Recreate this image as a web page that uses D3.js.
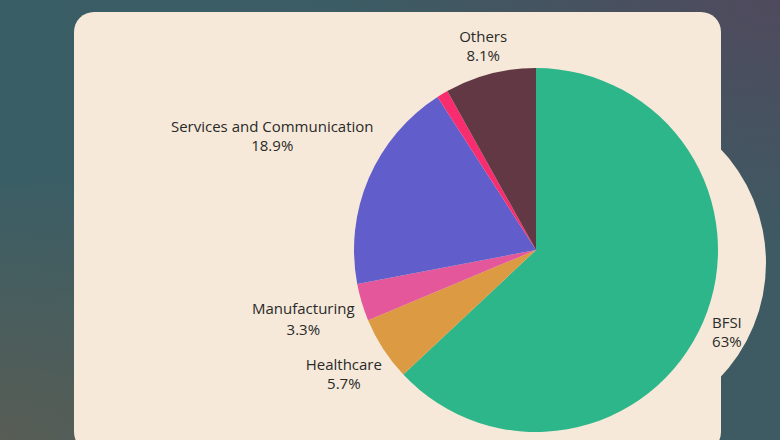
<!DOCTYPE html>
<html>
<head>
<meta charset="utf-8">
<script src="https://cdn.jsdelivr.net/npm/d3@7"></script>
<style>
html,body{margin:0;padding:0;overflow:hidden;background:#3e5a61;}
svg{display:block;}
</style>
</head>
<body>
<svg id="chart" width="780" height="440"></svg>
<script>
// ---- data ----
const categories = ["BFSI", "Healthcare", "Manufacturing", "Services and Communication", "", "Others"];
const values = [63, 5.7, 3.3, 18.9, 1.0, 8.1];
const valueLabels = ["63%", "5.7%", "3.3%", "18.9%", "", "8.1%"];
const colors = ["#2db68a", "#dc9a42", "#e4579a", "#615ecb", "#f72d70", "#623844"];

// label placement (radius from center, line gap)
const labelRadius = [208, 229, 243, 287, 0, 210];
const labelLineGap = [19, 19, 21, 19, 0, 19];

const W = 780, H = 440;
const svg = d3.select("#chart");
const defs = svg.append("defs");

// background gradient
const g1 = defs.append("linearGradient").attr("id","bg1").attr("x1","0").attr("y1","0").attr("x2","1").attr("y2","0");
g1.append("stop").attr("offset","0%").attr("stop-color","#3a5e66");
g1.append("stop").attr("offset","100%").attr("stop-color","#3e5a62");
svg.append("rect").attr("width",W).attr("height",H).attr("fill","url(#bg1)");
const g2 = defs.append("radialGradient").attr("id","bg2").attr("cx","0").attr("cy","1").attr("r","0.6");
g2.append("stop").attr("offset","0%").attr("stop-color","#585d55").attr("stop-opacity",1);
g2.append("stop").attr("offset","100%").attr("stop-color","#585d55").attr("stop-opacity",0);
svg.append("rect").attr("width",W).attr("height",H).attr("fill","url(#bg2)");
const g3 = defs.append("radialGradient").attr("id","bg3").attr("cx","1").attr("cy","0").attr("r","0.55");
g3.append("stop").attr("offset","0%").attr("stop-color","#4f4a5d").attr("stop-opacity",1);
g3.append("stop").attr("offset","100%").attr("stop-color","#4f4a5d").attr("stop-opacity",0);
svg.append("rect").attr("width",W).attr("height",H).attr("fill","url(#bg3)");

// panel
const panelFill = "#f6e9d9";
svg.append("rect").attr("x",74).attr("y",12).attr("width",647).attr("height",440).attr("rx",20).attr("fill",panelFill);
svg.append("circle").attr("cx",600).attr("cy",263).attr("r",166).attr("fill",panelFill);

// pie
const cx = 536, cy = 250, R = 182;
const data = categories.map((c,i)=>({cat:c, value:values[i], label:valueLabels[i], color:colors[i], i}));
const pie = d3.pie().value(d=>d.value).sort(null);
const arcs = pie(data);
const arc = d3.arc().innerRadius(0).outerRadius(R);
const gp = svg.append("g").attr("transform",`translate(${cx},${cy})`);
gp.selectAll("path").data(arcs).join("path")
  .attr("d",arc).attr("fill",d=>d.data.color);

// labels
const gl = gp.append("g")
  .attr("font-family","'Open Sans', sans-serif")
  .attr("font-size",15)
  .attr("fill","#2a2a2a")
  .attr("text-anchor","middle");
arcs.forEach(a=>{
  if(!a.data.cat) return;
  const i = a.data.i;
  const ang = (a.startAngle + a.endAngle)/2;
  const r = labelRadius[i];
  const x = Math.sin(ang)*r, y = -Math.cos(ang)*r;
  const gap = labelLineGap[i];
  gl.append("text").attr("x",x).attr("y",y - gap/2 + 5).text(a.data.cat);
  gl.append("text").attr("x",x).attr("y",y + gap/2 + 5).text(a.data.label);
});
</script>
</body>
</html>
